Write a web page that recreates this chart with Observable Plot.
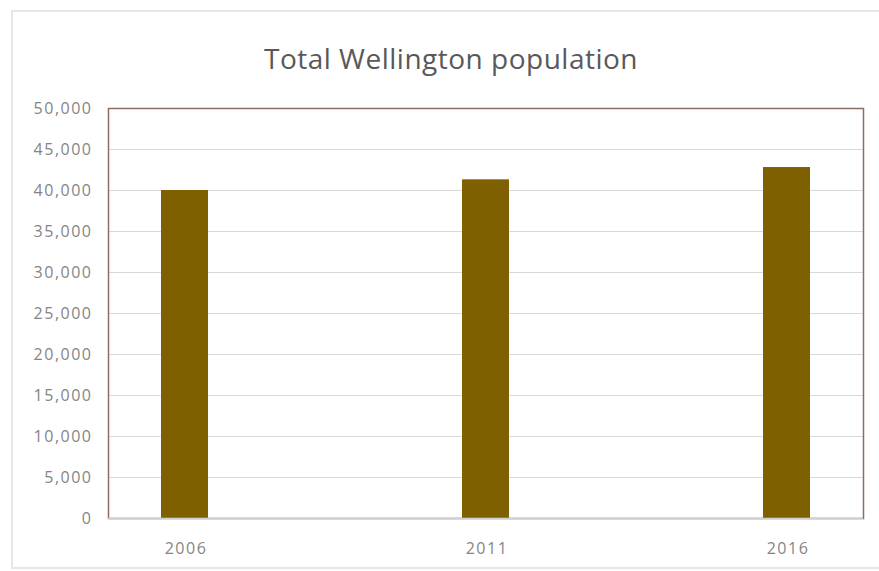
<!DOCTYPE html>
<html>
<head>
<meta charset="utf-8">
<script src="https://cdn.jsdelivr.net/npm/d3@7"></script>
<script src="https://cdn.jsdelivr.net/npm/@observablehq/plot@0.6"></script>
<style>
  body { margin: 0; background: #fff; }
  #wrap { position: relative; width: 879px; height: 571px; overflow: hidden; background: #fff; }
  #box { position: absolute; left: 11px; top: 10px; width: 900px; height: 559px; border: 2px solid #e6e6e6; box-sizing: border-box; }
  #title { position: absolute; left: 0; top: 38px; width: 879px; padding-left: 23px; box-sizing: border-box; text-align: center;
           font-family: "Open Sans", sans-serif; font-size: 28px; letter-spacing: 0.5px; color: #595959; line-height: 40px; }
  #chart { position: absolute; left: 0; top: 90px; }
  #chart svg text { letter-spacing: 1.5px; }
</style>
</head>
<body>
<div id="wrap">
  <div id="box"></div>
  <div id="title">Total Wellington population</div>
  <div id="chart"></div>
</div>
<script>
const years = ["2006", "2011", "2016"];
const population = [40000, 41300, 42800];
const yTicks = [0, 5000, 10000, 15000, 20000, 25000, 30000, 35000, 40000, 45000, 50000];

const data = years.map((year, i) => ({year, pop: population[i]}));

const chart = Plot.plot({
  width: 879,
  height: 481,
  marginTop: 18,
  marginBottom: 53,
  marginLeft: 108,
  marginRight: 16,
  style: { fontFamily: "'Open Sans', sans-serif", fontSize: "16px", color: "#858585", background: "transparent" },
  x: { type: "band", domain: years, paddingInner: 0.844, paddingOuter: 0.174, label: null },
  y: { domain: [0, 50000], label: null },
  marks: [
    Plot.gridY(yTicks, { stroke: "#d9d9d9", strokeOpacity: 1 }),
    Plot.barY(data, { x: "year", y: "pop", fill: "#7f6000" }),
    Plot.frame({ stroke: "#8b6f5e", strokeWidth: 1.5 }),
    Plot.ruleY([0], { stroke: "#d0d0d0", strokeWidth: 1.5 }),
    Plot.axisY(yTicks, { tickSize: 0, tickPadding: 16, tickFormat: d3.format(","), fill: "#858585" }),
    Plot.axisX({ tickSize: 0, tickPadding: 24, fill: "#858585", dx: 1 })
  ]
});
document.getElementById("chart").appendChild(chart);
</script>
</body>
</html>
